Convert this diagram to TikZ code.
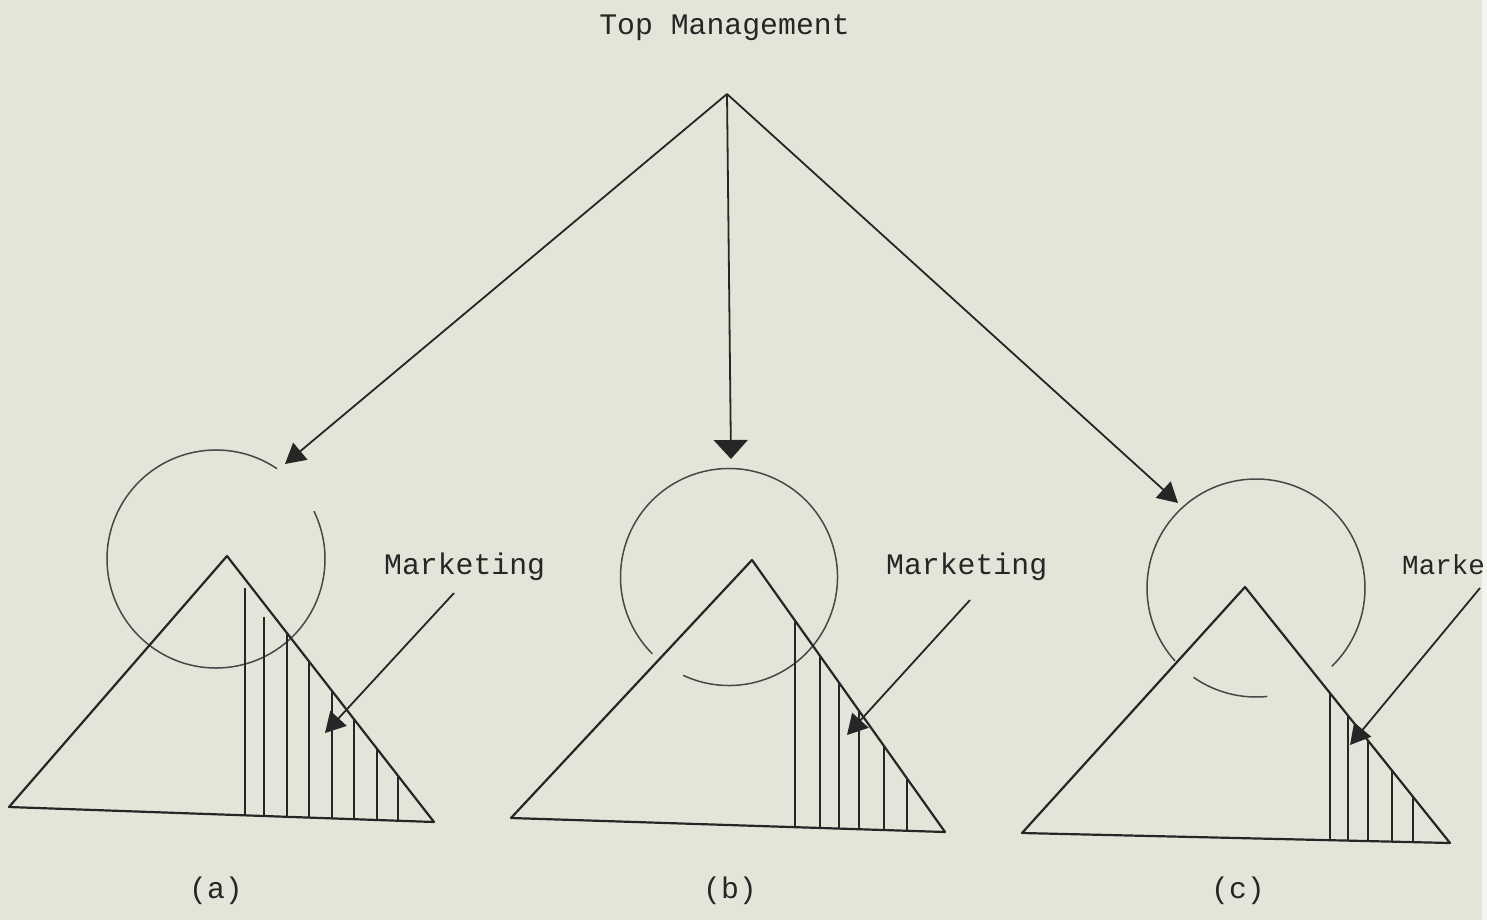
\documentclass[tikz,border=0pt]{standalone}
\usepackage{fontspec}
\setmonofont{Liberation Mono}
\usetikzlibrary{arrows.meta,calc}
\definecolor{paper}{HTML}{E4E5D9}
\definecolor{ink}{HTML}{262626}
\begin{document}
\begin{tikzpicture}[x=1pt,y=1pt,
  edge/.style={draw=ink, line width=2.2pt, line join=round, line cap=round},
  hatch/.style={draw=ink, line width=1.5pt},
  ring/.style={draw=ink!85, line width=1.5pt},
  ptr/.style={draw=ink, line width=1.8pt, -{Triangle[length=20pt,width=22pt]}},
  wideptr/.style={draw=ink, line width=1.8pt, -{Triangle[length=19pt,width=34pt]}},
  lbl/.style={font=\ttfamily\fontsize{29.8}{32}\selectfont, text=ink, inner sep=0pt}]
\useasboundingbox (0,0) rectangle (1487,-920);
\fill[paper] (0,0) rectangle (1487,-920);
\fill[white!60!paper] (1482,0) rectangle (1487,-920);

% top of the hierarchy
\node[lbl, anchor=base] (top) at (724.5,-35) {Top Management};
\coordinate (apex) at (727,-94);
\coordinate (tipA) at (285,-464);
\coordinate (tipB) at (731,-459);
\coordinate (tipC) at (1178,-503);
\draw[ptr] (apex) -- (tipA);
\draw[wideptr] (apex) -- (tipB);
\draw[ptr] (apex) -- (tipC);

% ---------- (a) ----------
\coordinate (cA) at (216,-559);
\draw[ring] ($(cA)+(56:109pt)$) arc[start angle=56, end angle=386, radius=109pt];
\coordinate (topA) at (227,-556);
\coordinate (leftA) at (9,-807);
\coordinate (rightA) at (434,-822);
\draw[edge] (topA) -- (leftA) -- (rightA) -- cycle;
\foreach \hx/\dr in {245/9, 264/13, 287/0, 309/0, 332/0, 354/0, 377/0, 398/0} {
  \pgfmathsetmacro\ty{-(556+(\hx-227)/207*266+\dr)}
  \pgfmathsetmacro\by{-(807+(\hx-9)/425*15)}
  \draw[hatch] (\hx,\by) -- (\hx,\ty);
}
\node[lbl, anchor=base west] (mktA) at (384,-574) {Marketing};
\coordinate (fromA) at (454,-593);
\coordinate (headA) at (325,-733);
\draw[ptr] (fromA) -- (headA);
\node[lbl, anchor=base] (capA) at (216,-898) {(a)};

% ---------- (b) ----------
\coordinate (cB) at (729,-577);
\draw[ring] ($(cB)+(245:108.5pt)$) arc[start angle=245, end angle=585, radius=108.5pt];
\coordinate (topB) at (752,-560);
\coordinate (leftB) at (511,-818);
\coordinate (rightB) at (945,-832);
\draw[edge] (topB) -- (leftB) -- (rightB) -- cycle;
\foreach \hx in {795, 820, 839, 859, 884, 907} {
  \pgfmathsetmacro\ty{-(560+(\hx-752)/193*272)}
  \pgfmathsetmacro\by{-(818+(\hx-511)/434*14)}
  \draw[hatch] (\hx,\by) -- (\hx,\ty);
}
\node[lbl, anchor=base west] (mktB) at (886,-574) {Marketing};
\coordinate (fromB) at (970,-600);
\coordinate (headB) at (847,-735);
\draw[ptr] (fromB) -- (headB);
\node[lbl, anchor=base] (capB) at (730,-898) {(b)};

% ---------- (c) ----------
\coordinate (cC) at (1256,-588);
\draw[ring] ($(cC)+(314:109pt)$) arc[start angle=314, end angle=582, radius=109pt];
\draw[ring] ($(cC)+(235:109pt)$) arc[start angle=235, end angle=276, radius=109pt];
\coordinate (topC) at (1245,-587);
\coordinate (leftC) at (1022,-833);
\coordinate (rightC) at (1450,-843);
\draw[edge] (topC) -- (leftC) -- (rightC) -- cycle;
\foreach \hx in {1330, 1348, 1368, 1392, 1413} {
  \pgfmathsetmacro\ty{-(587+(\hx-1245)/205*256)}
  \pgfmathsetmacro\by{-(833+(\hx-1022)/428*10)}
  \draw[hatch] (\hx,\by) -- (\hx,\ty);
}
\node[lbl, anchor=base west, font=\ttfamily\fontsize{27.6}{30}\selectfont] (mktC) at (1402,-574) {Marke};
\coordinate (fromC) at (1480,-588);
\coordinate (headC) at (1350,-745);
\draw[ptr] (fromC) -- (headC);
\node[lbl, anchor=base] (capC) at (1238,-898) {(c)};
\end{tikzpicture}
\end{document}
